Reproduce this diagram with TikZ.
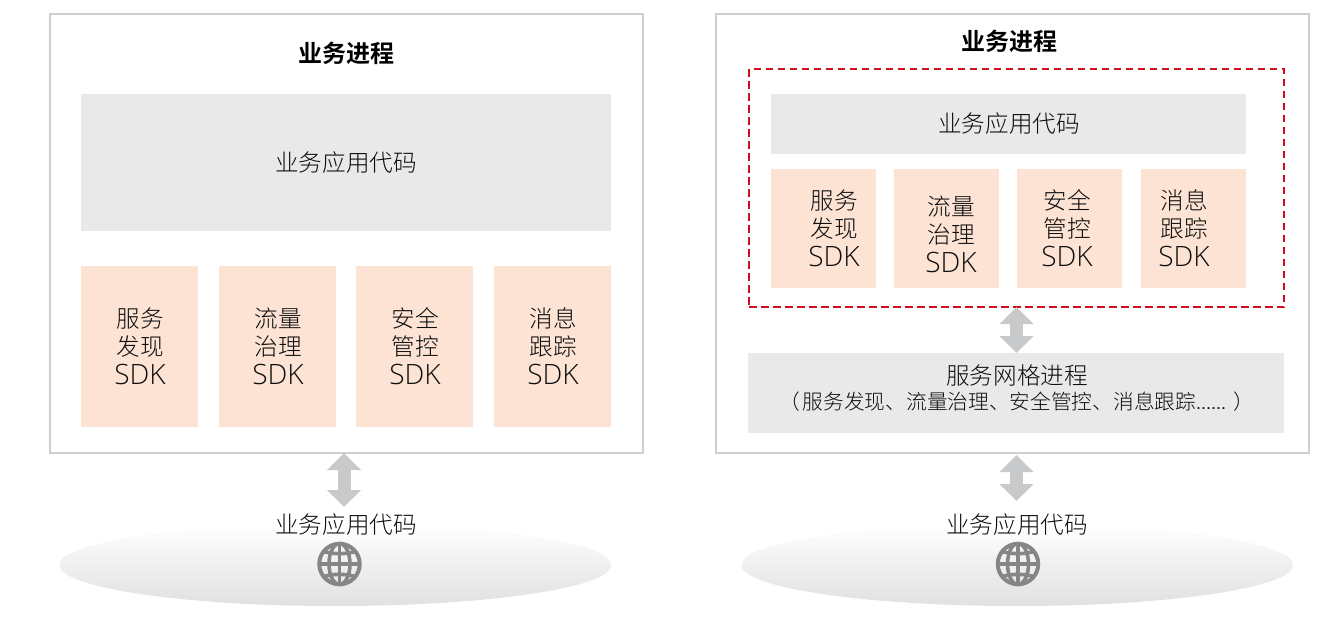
\documentclass[tikz,border=0pt]{standalone}
\usepackage{fontspec}
\setmainfont{Noto Sans CJK SC Light}[BoldFont={Noto Sans CJK SC Bold}]
\newfontfamily\latinf{Open Sans Light}
\newfontfamily\dotf{Liberation Sans}
\usetikzlibrary{arrows.meta,shapes.geometric}
\definecolor{frameC}{HTML}{CFCFCF}
\definecolor{greyC}{HTML}{E9E9E9}
\definecolor{peachC}{HTML}{FCE3D4}
\definecolor{arrowC}{HTML}{C8C9CB}
\definecolor{redC}{HTML}{D00C1E}
\definecolor{globeC}{HTML}{868686}
\definecolor{inkC}{HTML}{0D0D0D}
\newcommand{\bx}[6]{\node[#2,outer sep=0pt,minimum width=#5-#3,minimum height=#6-#4,anchor=north west] (#1) at (#3,#4) {};}
\tikzset{
  frame/.style={draw=frameC,line width=1.8pt,fill=white,inner sep=0pt},
  greybox/.style={fill=greyC,inner sep=0pt},
  sdkbox/.style={fill=peachC,inner sep=0pt},
  redbox/.style={draw=redC,line width=1.4pt,dash pattern=on 7.5pt off 4.5pt,inner sep=0pt},
  txt/.style={text=inkC,font=\fontsize{23.6}{28.5}\selectfont,align=center,inner sep=0pt},
  titletxt/.style={text=black,font=\fontsize{24}{28}\selectfont\bfseries,inner sep=0pt},
  smalltxt/.style={text=inkC,font=\fontsize{20.7}{24}\selectfont,inner sep=0pt},
  dbl/.style={draw=arrowC,line width=13pt,{Triangle[length=17pt,width=33pt,fill=arrowC]}-{Triangle[length=17pt,width=33pt,fill=arrowC]},shorten >=0pt,shorten <=0pt},
  cloud/.style={ellipse,top color=white,bottom color=black!12,minimum width=552pt,minimum height=82pt,inner sep=0pt},
  globeline/.style={draw=globeC,line width=3.6pt},
}
\newcommand{\globe}[3]{%
  \node[circle,draw=globeC,line width=4pt,minimum size=40.5pt,inner sep=0pt] (#1) at (#2,#3) {};
  \begin{scope}[shift={(#2,#3)}]
    \draw[globeline] (0,-20.5) -- (0,20.5);
    \draw[globeline] (-21,0) -- (21,0);
    \draw[globeline] (0,0) ellipse [x radius=10.5,y radius=20.5];
    \draw[globeline] (-17,-13) .. controls (-8,-9.5) and (8,-9.5) .. (17,-13);
    \draw[globeline] (-17,13) .. controls (-8,9.5) and (8,9.5) .. (17,13);
  \end{scope}}
\newcommand{\sdk}[4]{\node[txt,anchor=center] (#1) at (#2,#3) {#4\\{\fontsize{28}{28.5}\selectfont\latinf SDK}};}
\begin{document}
\begin{tikzpicture}[x=1pt,y=-1pt]
\useasboundingbox (0,0) rectangle (1344,633);
\fill[white] (0,0) rectangle (1344,633);

% clouds
\node[cloud] (cloudL) at (335.3,565) {};
\node[cloud] (cloudR) at (1017.3,565) {};

% left panel
\bx{outerL}{frame}{50}{14}{643}{453}
\node[titletxt] (titleL) at (346,53) {业务进程};
\bx{codeL}{greybox}{81}{94}{611}{231}
\node[txt] (codeLt) at (346,162.5) {业务应用代码};
\bx{a1}{sdkbox}{81}{266}{198}{427}
\bx{a2}{sdkbox}{219}{266}{336}{427}
\bx{a3}{sdkbox}{356}{266}{473}{427}
\bx{a4}{sdkbox}{494}{266}{611}{427}
\sdk{a1t}{140}{346}{服务\\发现}
\sdk{a2t}{278}{346}{流量\\治理}
\sdk{a3t}{415}{346}{安全\\管控}
\sdk{a4t}{553}{346}{消息\\跟踪}

% right panel
\bx{outerR}{frame}{716}{14}{1309}{453}
\node[titletxt] (titleR) at (1009,41) {业务进程};
\bx{dash}{redbox}{749}{69}{1284}{307}
\bx{codeR}{greybox}{771}{94}{1246}{154}
\node[txt] (codeRt) at (1009,123.5) {业务应用代码};
\bx{b1}{sdkbox}{771}{169}{876}{288}
\bx{b2}{sdkbox}{894}{169}{999}{288}
\bx{b3}{sdkbox}{1017}{169}{1122}{288}
\bx{b4}{sdkbox}{1141}{169}{1246}{288}
\sdk{b1t}{834}{228}{服务\\发现}
\sdk{b2t}{951}{234}{流量\\治理}
\sdk{b3t}{1067}{228}{安全\\管控}
\sdk{b4t}{1184}{228}{消息\\跟踪}
\bx{mesh}{greybox}{748}{353}{1284}{433}
\node[txt] (meshT) at (1017,375.5) {服务网格进程};
\node[smalltxt] (meshS) at (1016.5,401.5) {（\hspace{3pt}服务发现、流量治理、安全管控、消息跟踪{\dotf\fontsize{18}{24}\selectfont ......}\hspace{7pt}）};

% bottom labels and globes
\node[txt] (netL) at (346,524.5) {业务应用代码};
\node[txt] (netR) at (1017,524.5) {业务应用代码};
\globe{globeL}{339.5}{564}
\globe{globeR}{1018}{564}

% arrows
\coordinate (p1) at (344,453);
\coordinate (p2) at (344,507);
\coordinate (q1) at (1016.5,307);
\coordinate (q2) at (1016.5,353);
\coordinate (r1) at (1016.5,455);
\coordinate (r2) at (1016.5,501);
\draw[dbl] (p1) -- (p2);
\draw[dbl] (q1) -- (q2);
\draw[dbl] (r1) -- (r2);
\end{tikzpicture}
\end{document}
